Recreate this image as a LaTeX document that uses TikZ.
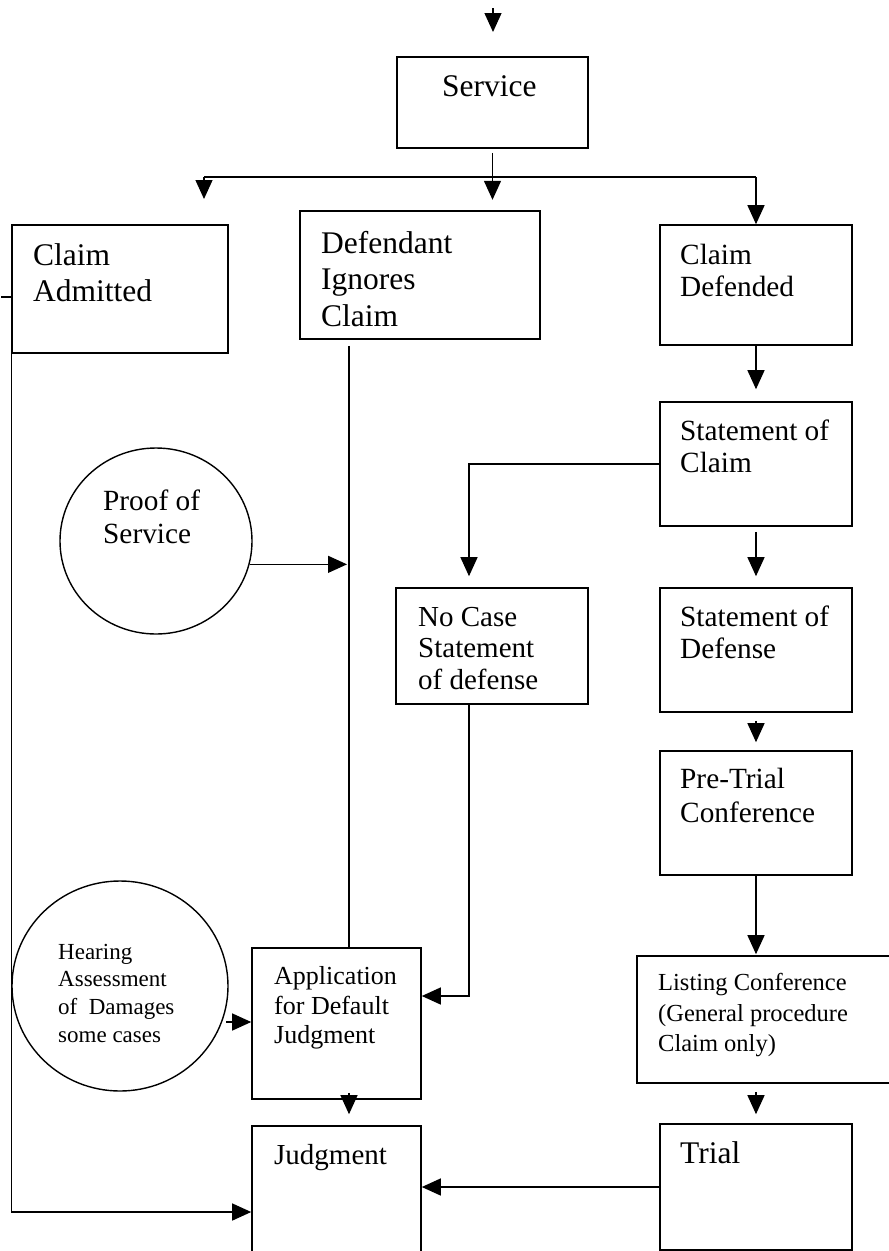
\documentclass[tikz,border=0pt]{standalone}
\usepackage{fontspec}
\setmainfont{Liberation Serif}
\usetikzlibrary{arrows.meta,calc,shapes.geometric}
\tikzset{
  box/.style={draw, line width=1.6pt, inner sep=0pt, rectangle},
  oval/.style={draw, line width=1.4pt, inner sep=0pt, ellipse},
  txt/.style={anchor=north west, inner sep=0pt, align=left},
  big/.style={font=\fontsize{31.5}{36}\selectfont},
  mid/.style={font=\fontsize{29.3}{32}\selectfont},
  ln/.style={line width=1.3pt},
  arr/.style={line width=1.3pt, -{Triangle[length=19pt,width=17pt]}},
  barline/.style={line width=2pt}
}
\begin{document}
\begin{tikzpicture}[x=1pt,y=-1pt]
\useasboundingbox (0,0) rectangle (889,1251);
\fill[white] (0,0) rectangle (889,1251);
\clip (0,0) rectangle (889,1251);

% boxes
\node[box, minimum width=191pt, minimum height=91pt] (svc) at (492.5,102.5) {};
\node[box, minimum width=216pt, minimum height=128pt] (ca) at (120,289) {};
\node[box, minimum width=240pt, minimum height=128pt] (di) at (420,275) {};
\node[box, minimum width=192pt, minimum height=120pt] (cd) at (756,285) {};
\node[box, minimum width=192pt, minimum height=124pt] (soc) at (756,464) {};
\node[box, minimum width=192pt, minimum height=116pt] (nc) at (492,646) {};
\node[box, minimum width=192pt, minimum height=124pt] (sod) at (756,650) {};
\node[box, minimum width=192pt, minimum height=124pt] (pt) at (756,813) {};
\node[box, minimum width=258pt, minimum height=127pt] (lc) at (766,1019.5) {};
\node[box, minimum width=192pt, minimum height=126pt] (tr) at (756,1187) {};
\node[box, minimum width=169pt, minimum height=151pt] (app) at (336.5,1023.5) {};
\node[box, minimum width=169pt, minimum height=174pt] (jd) at (336.5,1213) {};
\node[oval, minimum width=192pt, minimum height=186pt] (pr) at (156,541) {};
\node[oval, minimum width=216pt, minimum height=210pt] (hr) at (120,986) {};

% texts
\node[txt, big] (tsvc) at (442,75.7) {Service};
\node[txt, big] (tca) at (33,243.7) {Claim\\Admitted};
\node[txt, font=\fontsize{31.5}{36.5}\selectfont] (tdi) at (321,230.7) {Defendant\\Ignores\\Claim};
\node[txt, mid] (tcd) at (680,243.5) {Claim\\Defended};
\node[txt, mid] (tsoc) at (680,419.5) {Statement of\\Claim};
\node[txt, font=\fontsize{29}{31.5}\selectfont] (tnc) at (418,606.6) {No Case\\Statement\\of defense};
\node[txt, mid] (tsod) at (680,605.5) {Statement of\\Defense};
\node[txt, font=\fontsize{29.3}{34}\selectfont] (tpt) at (680,767.5) {Pre-Trial\\Conference};
\node[txt, font=\fontsize{24.5}{30.5}\selectfont] (tlc) at (658,973.2) {Listing Conference\\(General procedure\\Claim only)};
\node[txt, big] (ttr) at (680,1141.7) {Trial};
\node[txt, font=\fontsize{26}{29.5}\selectfont] (tapp) at (274,966.6) {Application\\for Default\\Judgment};
\node[txt, font=\fontsize{29}{32}\selectfont] (tjd) at (274,1144.6) {Judgment};
\node[txt, font=\fontsize{29.3}{33}\selectfont] (tpr) at (103,489.5) {Proof of\\Service};
\node[txt, font=\fontsize{23}{27.7}\selectfont] (thr) at (58,943.7) {Hearing\\Assessment\\of\ \ Damages\\some cases};

% helper coordinates
\coordinate (top) at (493,8);
\coordinate (barL) at (204,177);
\coordinate (vx) at (349,0);
\coordinate (ncx) at (469,0);

% connectors
\draw[arr] (top) -- ++(0,24);
\draw[arr] ($(svc.south)+(0,4)$) -- ++(0,47);
\draw[barline] (barL) -- (cd.north |- barL);
\draw[arr] (barL) -- ++(0,22);
\draw[arr] (cd.north |- barL) -- (cd.north);
\draw[arr] (cd.south) -- ($(soc.north)+(0,-12)$);
\draw[arr] ($(soc.south)+(0,5)$) -- ($(sod.north)+(0,-11)$);
\draw[arr] (soc.west) -| ($(nc.north -| ncx)+(0,-11)$);
\draw[arr] ($(sod.south)+(0,8)$) -- ($(pt.north)+(0,-8)$);
\draw[arr] (pt.south) -- ($(pt.south |- lc.north)+(0,-1)$);
\draw[arr] ($(tr.north |- lc.south)+(0,8)$) -- ($(tr.north)+(0,-9)$);
\draw[arr] (tr.west) -- (tr.west -| jd.east);
\draw[arr] (nc.south -| ncx) |- ($(app.east)+(0,-27.5)$);
\draw[arr] ($(app.west)+(-25,-1.5)$) -- ($(app.west)+(0,-1.5)$);
\draw[arr] ($(app.south -| vx)+(0,-7)$) -- ($(jd.north -| vx)+(0,-11)$);
\draw[ln] ($(di.south -| vx)+(0,6)$) -- (app.north -| vx);
\draw[arr] (pr.-14.5) -- ($(vx |- pr.-14.5)+(-2,0)$);
\draw[arr] (ca.south west) |- ($(jd.west)+(0,-1)$);
\draw[ln] ($(ca.west)+(-10,8)$) -- ($(ca.west)+(0,8)$);
\end{tikzpicture}
\end{document}
